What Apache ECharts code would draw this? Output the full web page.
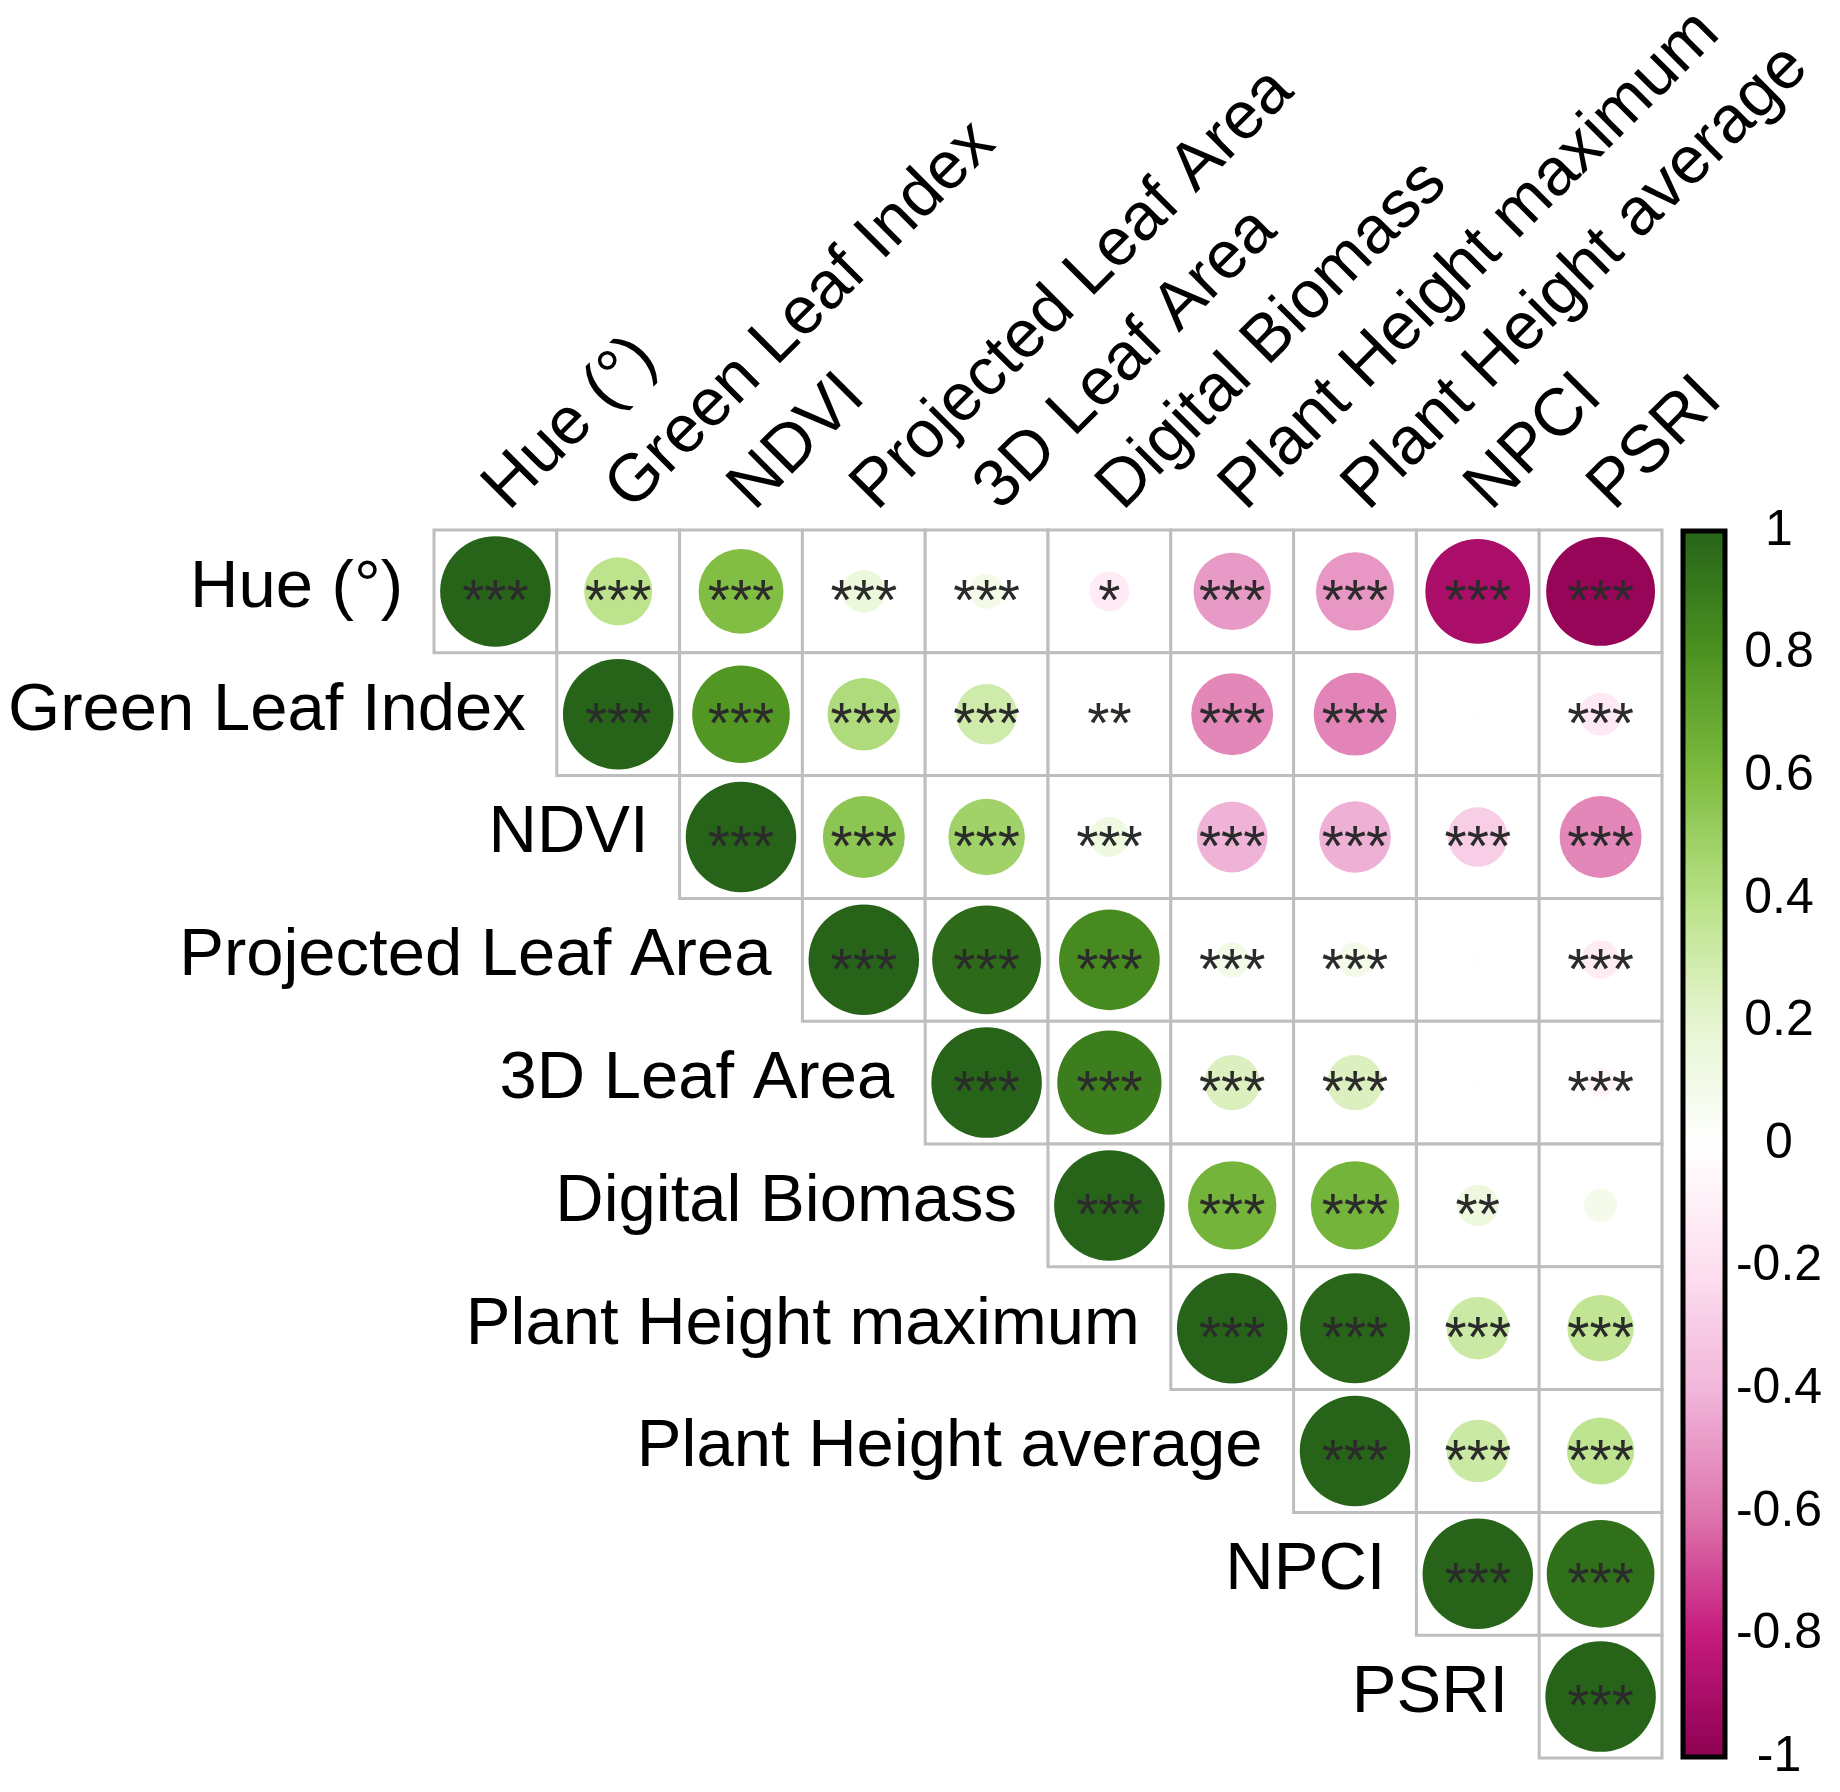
<!DOCTYPE html>
<html>
<head>
<meta charset="utf-8">
<script src="https://cdn.jsdelivr.net/npm/echarts@6/dist/echarts.min.js"></script>
<style>
html,body{margin:0;padding:0;background:#fff;}
#chart{width:1840px;height:1792px;}
</style>
</head>
<body>
<div id="chart"></div>
<script>
// ---- data ----
const variables = ['Hue (°)', 'Green Leaf Index', 'NDVI', 'Projected Leaf Area', '3D Leaf Area',
  'Digital Biomass', 'Plant Height maximum', 'Plant Height average', 'NPCI', 'PSRI'];

// upper-triangle correlation rows (each starts at the diagonal)
const rHue   = [1, 0.38, 0.59, 0.15, 0.10, -0.13, -0.49, -0.50, -0.90, -0.97];
const rGLI   = [1, 0.78, 0.43, 0.30, 0.02, -0.55, -0.56, 0.01, -0.15];
const rNDVI  = [1, 0.55, 0.48, 0.13, -0.41, -0.42, -0.29, -0.55];
const rPLA   = [1, 0.97, 0.83, 0.10, 0.10, 0.01, -0.12];
const r3DLA  = [1, 0.89, 0.25, 0.25, 0.01, -0.07];
const rDB    = [1, 0.64, 0.64, 0.14, 0.09];
const rPHmax = [1, 0.99, 0.32, 0.36];
const rPHavg = [1, 0.32, 0.37];
const rNPCI  = [1, 0.95];
const rPSRI  = [1];

// significance labels for the same cells
const sHue   = ['***','***','***','***','***','*','***','***','***','***'];
const sGLI   = ['***','***','***','***','**','***','***','','***'];
const sNDVI  = ['***','***','***','***','***','***','***','***'];
const sPLA   = ['***','***','***','***','***','','***'];
const s3DLA  = ['***','***','***','***','','***'];
const sDB    = ['***','***','***','**',''];
const sPHmax = ['***','***','***','***'];
const sPHavg = ['***','***','***'];
const sNPCI  = ['***','***'];
const sPSRI  = ['***'];

const palette = ['#8E0152','#C51B7D','#DE77AE','#F1B6DA','#FDE0EF','#FFFFFF','#E6F5D0','#B8E186','#7FBC41','#4D9221','#276419'];

// ---- build series data ----
const corrRows = [rHue, rGLI, rNDVI, rPLA, r3DLA, rDB, rPHmax, rPHavg, rNPCI, rPSRI];
const sigRows = [sHue, sGLI, sNDVI, sPLA, s3DLA, sDB, sPHmax, sPHavg, sNPCI, sPSRI];
const cellData = [];
const sigList = [];
corrRows.forEach((row, i) => {
  row.forEach((v, k) => {
    cellData.push([i + k, i, v]);
    sigList.push(sigRows[i][k]);
  });
});
const diagData = variables.map((_, i) => [i, i]);
const topData = variables.map((_, i) => [i, 0]);

const FONT = "'Liberation Sans', Arial, sans-serif";
const LABEL_SIZE = 67;
const chart = echarts.init(document.getElementById('chart'), null, {renderer: 'canvas'});

chart.setOption({
  animation: false,
  backgroundColor: '#ffffff',
  grid: [
    {left: 434, top: 530, width: 1228, height: 1228, show: false},
    {left: 1683, top: 531, width: 42, height: 1226, show: true, backgroundColor: 'transparent',
     borderColor: '#000', borderWidth: 5, z: 10}
  ],
  xAxis: [
    {type: 'category', gridIndex: 0, data: variables, position: 'top', boundaryGap: true, show: false},
    {type: 'value', gridIndex: 1, show: false}
  ],
  yAxis: [
    {type: 'category', gridIndex: 0, data: variables, inverse: true, show: false},
    {type: 'value', gridIndex: 1, min: -1, max: 1, interval: 0.2, position: 'right',
     axisLine: {show: false}, splitLine: {show: false},
     axisTick: {show: true, length: 10, inside: false, lineStyle: {color: '#000', width: 3}},
     axisLabel: {show: true, align: 'center', margin: 54, fontSize: 50, color: '#000', fontFamily: FONT,
       formatter: v => String(Math.round(v * 10) / 10)}}
  ],
  visualMap: {
    type: 'continuous', min: -1, max: 1, dimension: 2, seriesIndex: 1,
    inRange: {color: palette}, calculable: false, hoverLink: false,
    left: 1683, top: 531, padding: 0, itemWidth: 42, itemHeight: 1226, text: null,
    showLabel: false, orient: 'vertical'
  },
  series: [
    {
      type: 'custom', name: 'cells', coordinateSystem: 'cartesian2d', xAxisIndex: 0, yAxisIndex: 0,
      data: cellData, clip: false, silent: true,
      renderItem: function (params, api) {
        const c = api.coord([api.value(0), api.value(1)]);
        const s = api.size([1, 1]);
        return {type: 'rect', shape: {x: c[0] - s[0] / 2, y: c[1] - s[1] / 2, width: s[0], height: s[1]},
          style: {fill: '#fff', stroke: '#BEBEBE', lineWidth: 3}};
      }
    },
    {
      type: 'custom', name: 'corr', coordinateSystem: 'cartesian2d', xAxisIndex: 0, yAxisIndex: 0,
      data: cellData, clip: false, silent: true, encode: {x: 0, y: 1},
      renderItem: function (params, api) {
        const c = api.coord([api.value(0), api.value(1)]);
        const s = api.size([1, 1]);
        const r = 0.45 * s[0] * Math.sqrt(Math.abs(api.value(2)));
        return {type: 'group', children: [
          {type: 'circle', shape: {cx: c[0], cy: c[1], r: r}, style: {fill: api.visual('color')}},
          {type: 'text', x: c[0], y: c[1] + 13, z2: 5,
           style: {text: sigList[params.dataIndex], fill: '#2b2b2b', fontSize: 57, fontFamily: FONT,
             align: 'center', verticalAlign: 'middle'}}
        ]};
      }
    },
    {
      type: 'custom', name: 'rowLabels', coordinateSystem: 'cartesian2d', xAxisIndex: 0, yAxisIndex: 0,
      data: diagData, clip: false, silent: true,
      renderItem: function (params, api) {
        const c = api.coord([api.value(0), api.value(1)]);
        const s = api.size([1, 1]);
        return {type: 'text', x: c[0] - s[0] / 2 - 31, y: c[1] - 3,
          style: {text: variables[params.dataIndex], fill: '#000', fontSize: LABEL_SIZE, fontFamily: FONT,
            align: 'right', verticalAlign: 'middle'}};
      }
    },
    {
      type: 'custom', name: 'colLabels', coordinateSystem: 'cartesian2d', xAxisIndex: 0, yAxisIndex: 0,
      data: topData, clip: false, silent: true,
      renderItem: function (params, api) {
        const c = api.coord([api.value(0), api.value(1)]);
        const s = api.size([1, 1]);
        return {type: 'text', x: c[0], y: c[1] - s[1] / 2 - 31, rotation: Math.PI / 4,
          style: {text: variables[params.dataIndex], fill: '#000', fontSize: LABEL_SIZE, fontFamily: FONT,
            align: 'left', verticalAlign: 'middle'}};
      }
    },
    {
      type: 'line', xAxisIndex: 1, yAxisIndex: 1, data: [], silent: true
    }
  ]
});
</script>
</body>
</html>
